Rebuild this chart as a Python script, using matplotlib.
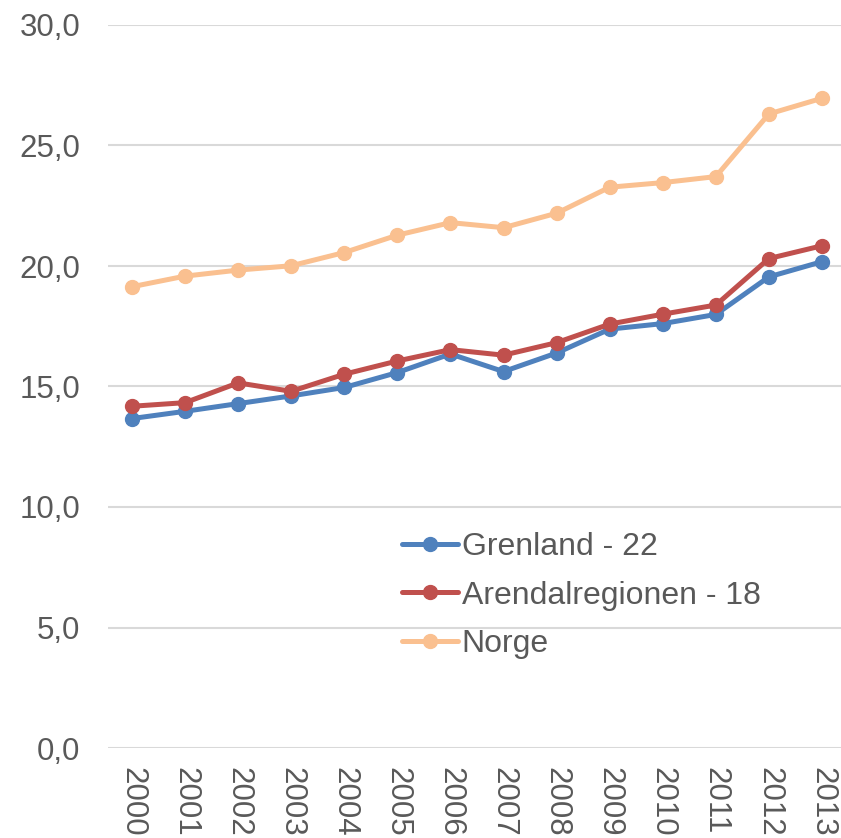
import matplotlib
matplotlib.use("Agg")
import matplotlib.pyplot as plt

years = [str(y) for y in range(2000, 2014)]
grenland = [13.67, 13.97, 14.29, 14.61, 14.96, 15.58, 16.35, 15.62, 16.39, 17.38, 17.61, 17.99, 19.55, 20.18]
arendal = [14.18, 14.33, 15.15, 14.80, 15.51, 16.06, 16.53, 16.30, 16.82, 17.59, 18.00, 18.38, 20.31, 20.84]
norge = [19.14, 19.58, 19.83, 20.01, 20.56, 21.28, 21.80, 21.59, 22.19, 23.27, 23.46, 23.71, 26.31, 26.96]
series_names = ["Grenland - 22", "Arendalregionen - 18", "Norge"]
colors = ["#4f81bd", "#c0504d", "#fac090"]
yticks = [0, 5, 10, 15, 20, 25, 30]

plt.rcParams["font.family"] = ["Liberation Sans", "DejaVu Sans"]
W, H = 841, 838
fig = plt.figure(figsize=(W / 100, H / 100), dpi=100)
ax = fig.add_axes([108 / W, (H - 748) / H, (841 - 108) / W, (748 - 25) / H])

x = list(range(len(years)))
for vals, name, c in zip([grenland, arendal, norge], series_names, colors):
    ax.plot(x, vals, color=c, lw=3.6, marker="o", markersize=10, label=name,
            solid_capstyle="round", zorder=3)

ax.set_ylim(0, 30)
ax.set_xlim(-0.452, 13.358)
ax.set_yticks(yticks)
ax.set_yticklabels([f"{v:.1f}".replace(".", ",") for v in yticks])
ax.set_xticks(x)
ax.set_xticklabels(years, rotation=270, va="top", ha="center")
ax.tick_params(axis="y", length=0, pad=20, labelsize=22.5, labelcolor="#595959")
ax.tick_params(axis="x", length=0, pad=14, labelsize=22.5, labelcolor="#595959")
ax.grid(axis="y", color="#d9d9d9", lw=1.5, zorder=0)
ax.set_axisbelow(True)
for s in ax.spines.values():
    s.set_visible(False)

leg = ax.legend(loc="upper left", bbox_to_anchor=(402 / W, 1 - 532 / H),
                bbox_transform=fig.transFigure, frameon=False, fontsize=23,
                handlelength=1.74, handletextpad=0.13, labelspacing=0.58,
                borderpad=0, borderaxespad=0)
for t in leg.get_texts():
    t.set_color("#595959")

fig.savefig("out.png", dpi=100)
